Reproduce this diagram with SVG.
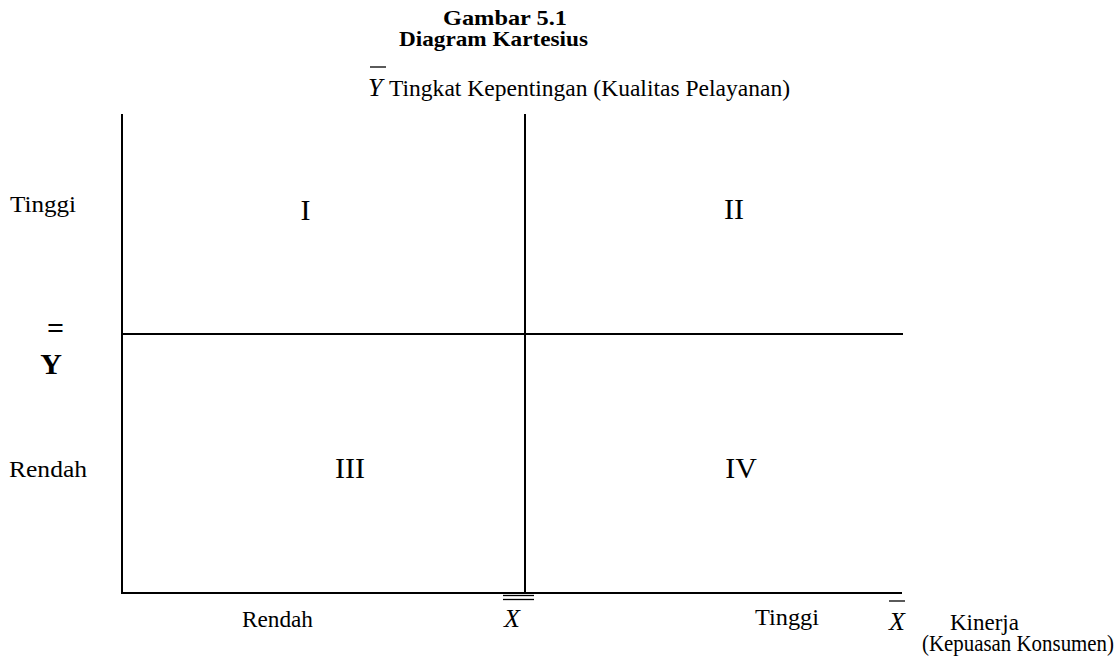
<svg xmlns="http://www.w3.org/2000/svg" width="1120" height="663" viewBox="0 0 1120 663">
<style>
text{font-family:"Liberation Serif","Times New Roman",serif;fill:#000}
.t{font-size:21px;font-weight:bold}
.l{font-size:23px}
.q{font-size:30px}
.it{font-size:26px;font-style:italic}
.ax{stroke:#000;stroke-width:2;fill:none}
.bar{stroke:#000;stroke-width:1.3;fill:none}
</style>
<rect width="1120" height="663" fill="#fff"/>
<g id="title">
<text class="t" x="443" y="25" textLength="124" lengthAdjust="spacingAndGlyphs">Gambar 5.1</text>
<text class="t" x="399" y="46" textLength="189" lengthAdjust="spacingAndGlyphs">Diagram Kartesius</text>
</g>
<g id="y-axis-label">
<text class="it" x="368" y="96" font-size="28">Y</text>
<line class="bar" x1="370" y1="67" x2="386" y2="67"/>
<text class="l" x="389" y="96" textLength="401" lengthAdjust="spacingAndGlyphs">Tingkat Kepentingan (Kualitas Pelayanan)</text>
</g>
<g id="connectors">
<line class="ax" x1="122" y1="114" x2="122" y2="593"/>
<line class="ax" x1="525" y1="114" x2="525" y2="593"/>
<line class="ax" x1="121" y1="334" x2="903" y2="334"/>
<line class="ax" x1="121" y1="593" x2="902" y2="593"/>
</g>
<g id="quadrant-I"><text class="q" x="305.5" y="220" text-anchor="middle">I</text></g>
<g id="quadrant-II"><text class="q" x="734" y="219" text-anchor="middle">II</text></g>
<g id="quadrant-III"><text class="q" x="350" y="478" text-anchor="middle">III</text></g>
<g id="quadrant-IV"><text class="q" x="741" y="478" text-anchor="middle">IV</text></g>
<g id="left-labels">
<text class="l" x="10" y="212" textLength="66" lengthAdjust="spacingAndGlyphs">Tinggi</text>
<text class="l" x="9" y="477" textLength="78" lengthAdjust="spacingAndGlyphs">Rendah</text>
<text class="q" x="55.5" y="338" text-anchor="middle" font-weight="bold">=</text>
<text class="q" x="51" y="374" text-anchor="middle" font-weight="bold">Y</text>
</g>
<g id="bottom-labels">
<text class="l" x="242" y="627" textLength="71" lengthAdjust="spacingAndGlyphs">Rendah</text>
<line class="bar" x1="503" y1="595.5" x2="534" y2="595.5"/>
<line class="bar" x1="503" y1="599.5" x2="534" y2="599.5"/>
<text class="it" x="504" y="627">X</text>
<text class="l" x="755" y="625" textLength="64" lengthAdjust="spacingAndGlyphs">Tinggi</text>
<line class="bar" x1="889" y1="601" x2="905" y2="601"/>
<text class="it" x="889" y="630" font-size="25">X</text>
<text class="l" x="950" y="630" font-size="22">Kinerja</text>
<text class="l" x="922" y="651" font-size="21" textLength="192" lengthAdjust="spacingAndGlyphs">(Kepuasan Konsumen)</text>
</g>
</svg>
